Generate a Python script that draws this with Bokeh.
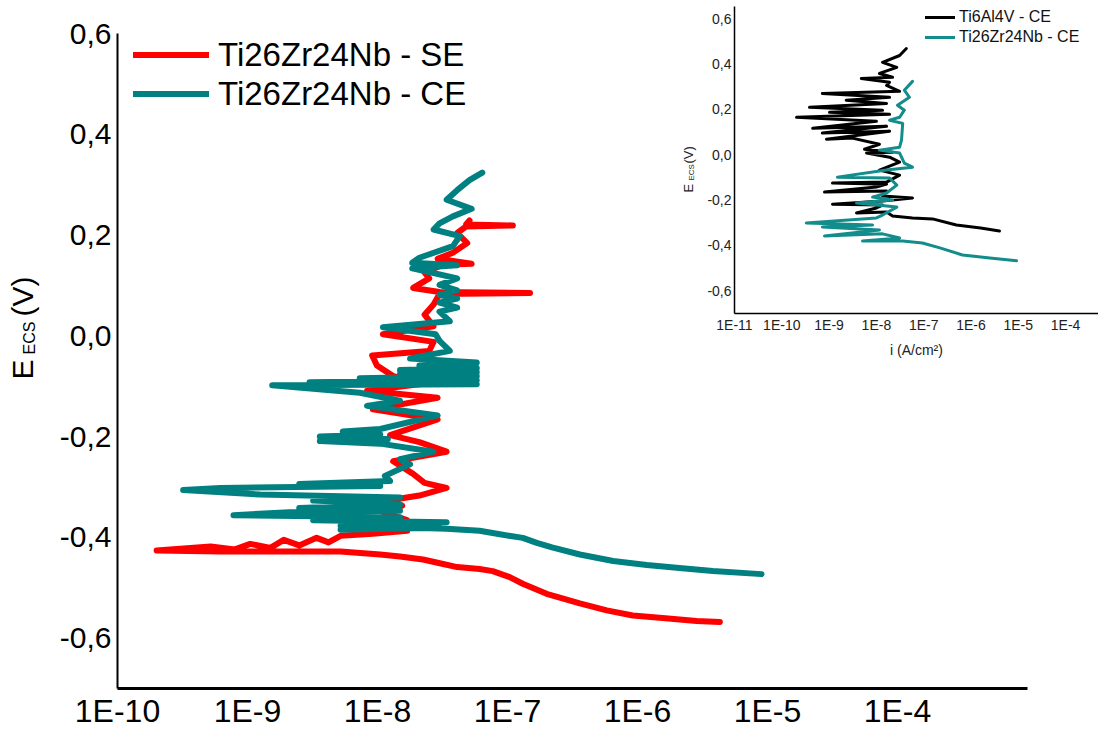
import math
from bokeh.plotting import figure
from bokeh.models import (Range1d, FixedTicker, CustomJSTickFormatter, Legend,
                          LegendItem, GridBox, Column)
from bokeh.core.properties import value
from bokeh.embed import file_html
from bokeh.resources import INLINE

# ---------------- data (main chart) ----------------
# Ti26Zr24Nb - SE : current density (A/cm2), potential (V vs ECS)
se_i = [4.3e-6, 2.85e-6, 1.56e-6, 9.2e-7, 5.8e-7, 3.6e-7, 2.0e-7, 1.31e-7, 1.04e-7,
        7.7e-8, 6.1e-8, 4.1e-8, 3.2e-8, 2.24e-8, 1.49e-8, 1.05e-8, 5.2e-9, 2.5e-9,
        6.2e-10, 2.0e-10,
        5.2e-10, 8.0e-10, 1.05e-9, 1.5e-9, 1.9e-9, 2.5e-9, 3.4e-9, 4.2e-9, 5.2e-9,
        9.2e-9, 1.69e-8, 1.36e-8, 1.69e-8, 1.1e-8, 1.55e-8, 1.2e-8, 2.1e-8, 3.4e-8,
        2.3e-8, 1.88e-8, 1.32e-8, 3.4e-8, 2.1e-8, 1.25e-8, 2.9e-8, 9.2e-9, 2.9e-8,
        8.3e-9, 2.4e-8, 1.32e-8, 9.9e-9, 9.1e-9, 2.5e-8, 2.7e-8, 1.1e-8, 2.7e-8,
        2.3e-8, 2.7e-8, 3.0e-8, 1.49e-7, 3.0e-8, 1.88e-8, 2.5e-8, 2.3e-8, 3.2e-8,
        5.3e-8, 2.9e-8, 3.8e-8, 4.9e-8, 4.1e-8, 4.8e-8, 1.1e-7, 4.8e-8, 5.1e-8]
se_E = [-0.568, -0.566, -0.560, -0.555, -0.545, -0.531, -0.512, -0.492, -0.479,
        -0.467, -0.463, -0.459, -0.453, -0.444, -0.438, -0.434, -0.428, -0.428,
        -0.428, -0.426,
        -0.418, -0.424, -0.413, -0.421, -0.405, -0.416, -0.401, -0.410, -0.397,
        -0.393, -0.387, -0.375, -0.366, -0.350, -0.337, -0.327, -0.317, -0.302,
        -0.292, -0.274, -0.249, -0.230, -0.211, -0.197, -0.166, -0.146, -0.123,
        -0.109, -0.094, -0.080, -0.059, -0.039, -0.030, -0.012, 0.003, 0.019,
        0.042, 0.062, 0.083, 0.085, 0.087, 0.095, 0.114, 0.126, 0.141,
        0.143, 0.153, 0.165, 0.184, 0.204, 0.217, 0.219, 0.221, 0.229]

# Ti26Zr24Nb - CE
ce_i = [9.0e-6, 3.8e-6, 2.1e-6, 1.18e-6, 6.5e-7, 3.6e-7, 2.2e-7, 1.68e-7, 1.31e-7,
        9.2e-8, 6.1e-8, 3.4e-8, 1.88e-8, 1.05e-8, 5.2e-9,
        3.0e-8, 5.2e-9, 3.4e-8, 3.2e-9, 1.49e-8, 7.8e-10, 2.1e-9, 1.49e-8, 2.5e-9,
        1.49e-8, 3.2e-9, 1.49e-8, 1.25e-9, 3.2e-10, 6.2e-10, 1.05e-8, 2.5e-9, 1.25e-8,
        1.14e-8, 1.78e-8, 1.49e-8, 2.7e-8, 1.05e-8, 3.6e-9, 1.2e-8, 3.6e-9, 1.05e-8,
        5.4e-9, 1.05e-8, 2.9e-8, 8.3e-9, 1.49e-8, 7.3e-9, 1.55e-9, 5.8e-8, 3.0e-9,
        5.8e-8, 7.3e-9, 5.8e-8, 1.49e-8, 5.8e-8, 1.49e-8, 5.8e-8, 2.1e-8, 5.8e-8,
        1.78e-8, 3.6e-8, 3.0e-8, 2.8e-8, 1.1e-8, 3.6e-8, 3.0e-8, 4.1e-8, 3.0e-8,
        4.1e-8, 3.0e-8, 4.1e-8, 3.0e-8, 4.1e-8, 1.85e-8, 4.1e-8, 1.85e-8, 2.1e-8,
        3.8e-8, 4.3e-8, 2.7e-8, 3.0e-8, 3.8e-8, 5.3e-8, 3.4e-8, 4.1e-8, 5.1e-8,
        6.4e-8]
ce_E = [-0.473, -0.467, -0.461, -0.455, -0.447, -0.434, -0.420, -0.411, -0.401,
        -0.395, -0.387, -0.383, -0.381, -0.379, -0.385,
        -0.381, -0.377, -0.370, -0.366, -0.360, -0.356, -0.350, -0.347, -0.342,
        -0.335, -0.327, -0.321, -0.315, -0.306, -0.302, -0.298, -0.294, -0.288,
        -0.278, -0.255, -0.245, -0.230, -0.214, -0.209, -0.205, -0.200, -0.196,
        -0.190, -0.185, -0.158, -0.139, -0.129, -0.113, -0.098, -0.096, -0.092,
        -0.088, -0.084, -0.080, -0.076, -0.072, -0.068, -0.064, -0.059, -0.053,
        -0.045, -0.030, -0.010, 0.003, 0.017, 0.029, 0.048, 0.056, 0.066,
        0.074, 0.081, 0.090, 0.101, 0.114, 0.134, 0.140, 0.145, 0.155,
        0.178, 0.198, 0.211, 0.223, 0.237, 0.252, 0.270, 0.289, 0.309,
        0.324]

# ---------------- data (inset) ----------------
ti64_i = [4.0e-6, 1.6e-6, 4.9e-7, 1.54e-7, 5.8e-8, 2.2e-8, 1.64e-8, 3.8e-9, 1.0e-8,
          1.35e-8, 1.18e-9, 1.35e-8, 5.8e-8, 1.35e-8, 1.64e-8, 8.0e-10, 1.0e-8,
          1.64e-8, 1.18e-9, 1.64e-8, 3.1e-8, 1.16e-8, 3.1e-8, 1.9e-8, 6.2e-9, 2.2e-8,
          5.6e-9, 1.16e-8, 3.1e-9, 8.8e-10, 1.9e-8, 7.2e-10, 1.64e-8, 4.5e-10, 1.0e-8,
          2.05e-10, 1.9e-8, 1.02e-9, 1.35e-8, 3.85e-10, 1.64e-8, 2.3e-9, 1.9e-8,
          7.2e-10, 3.1e-8, 1.64e-8, 1.9e-8, 4.8e-9, 2.2e-8, 1.16e-8, 2.7e-8, 1.35e-8,
          3.1e-8, 4.3e-8]
ti64_E = [-0.336, -0.323, -0.310, -0.283, -0.279, -0.270, -0.253, -0.257, -0.235,
          -0.222, -0.218, -0.204, -0.191, -0.182, -0.160, -0.165, -0.143,
          -0.130, -0.125, -0.121, -0.090, -0.068, -0.033, -0.011, 0.007, 0.011,
          0.024, 0.046, 0.073, 0.068, 0.103, 0.095, 0.125, 0.116, 0.147,
          0.165, 0.178, 0.187, 0.196, 0.209, 0.226, 0.240, 0.253,
          0.270, 0.279, 0.305, 0.319, 0.336, 0.341, 0.358, 0.385, 0.407,
          0.437, 0.468]

tizr_i = [9.2e-6, 2.5e-6, 6.6e-7, 2.2e-7, 9.4e-8, 3.6e-8, 5.1e-9, 3.1e-8, 1.35e-8,
          8.0e-10, 1.16e-8, 7.2e-10, 8.3e-9, 3.3e-10, 1.0e-8, 1.35e-8, 2.7e-8, 3.8e-9,
          2.2e-8, 8.3e-9, 1.64e-8, 2.7e-8, 1.9e-8, 1.5e-9, 1.64e-8, 5.8e-8, 3.9e-8,
          3.1e-8, 1.16e-8, 3.1e-8, 3.4e-8, 3.6e-8, 1.9e-8, 3.1e-8, 3.9e-8, 2.8e-8,
          5.0e-8, 3.9e-8, 5.8e-8]
tizr_E = [-0.468, -0.455, -0.442, -0.411, -0.389, -0.380, -0.380, -0.367, -0.349,
          -0.358, -0.332, -0.319, -0.310, -0.301, -0.279, -0.266, -0.231, -0.213,
          -0.200, -0.187, -0.169, -0.134, -0.103, -0.099, -0.068, -0.055, -0.037,
          0.007, 0.020, 0.033, 0.064, 0.138, 0.152, 0.165, 0.196, 0.218,
          0.253, 0.284, 0.323]

# ticks / labels
y_ticks = [-0.6, -0.4, -0.2, 0.0, 0.2, 0.4, 0.6]
x_ticks_main = [1e-10, 1e-9, 1e-8, 1e-7, 1e-6, 1e-5, 1e-4]
x_ticks_inset = [1e-11, 1e-10, 1e-9, 1e-8, 1e-7, 1e-6, 1e-5, 1e-4]
main_labels = ["Ti26Zr24Nb - SE", "Ti26Zr24Nb - CE"]
inset_labels = ["Ti6Al4V - CE", "Ti26Zr24Nb - CE"]
inset_xlabel = "i (A/cm\u00b2)"
ylabel_parts = ["E", "ECS", "(V)"]

FONT = "Liberation Sans"
RED = "#ff0000"
TEAL = "#008080"
TEAL2 = "#138c8c"

y_fmt = "return tick.toFixed(1).replace('.', ',');"
x_fmt = "return '1E' + Math.round(Math.log10(tick));"

W, H = 1098, 731

# ---------------- main figure ----------------
p = figure(width=W, height=H, x_axis_type="log",
           x_range=Range1d(1e-10, 1e-3), y_range=Range1d(-0.7, 0.6),
           output_backend="svg", toolbar_location=None,
           min_border_left=117, min_border_right=71,
           min_border_top=33, min_border_bottom=42)
p.outline_line_color = None
p.grid.visible = False
p.background_fill_color = "white"
p.border_fill_color = "white"

r_se = p.line(se_i, se_E, line_color=RED, line_width=6,
              line_join="round", line_cap="round")
r_ce = p.line(ce_i, ce_E, line_color=TEAL, line_width=6,
              line_join="round", line_cap="round")


def style_axis(ax, ticks, code, size, color, standoff, lw):
    ax.ticker = FixedTicker(ticks=ticks, minor_ticks=[])
    ax.formatter = CustomJSTickFormatter(code=code)
    ax.major_label_text_font = FONT
    ax.major_label_text_font_size = size
    ax.major_label_text_color = color
    ax.major_label_standoff = standoff
    ax.major_tick_line_color = None
    ax.minor_tick_line_color = None
    ax.major_tick_out = 0
    ax.minor_tick_out = 0
    ax.major_tick_in = 0
    ax.axis_line_width = lw
    ax.axis_line_color = "black"


style_axis(p.xaxis[0], x_ticks_main, x_fmt, "32px", "black", 4, 3)
style_axis(p.yaxis[0], y_ticks, y_fmt, "30px", "black", 6, 2)

leg = Legend(items=[LegendItem(label=main_labels[0], renderers=[r_se]),
                    LegendItem(label=main_labels[1], renderers=[r_ce])],
             location=(16, 575))
leg.padding = 0
leg.margin = 0
leg.spacing = 0
leg.glyph_width = 76
leg.glyph_height = 39
leg.label_height = 39
leg.label_standoff = 9
leg.label_text_font = FONT
leg.label_text_font_size = "33px"
leg.label_text_color = "black"
leg.border_line_color = None
leg.background_fill_alpha = 0
p.add_layout(leg)

# ---------------- inset figure ----------------
IW, IH = 424, 365
q = figure(width=IW, height=IH, x_axis_type="log",
           x_range=Range1d(1e-11, 4.97e-4), y_range=Range1d(-0.7, 0.653),
           output_backend="svg", toolbar_location=None,
           min_border_left=60, min_border_right=0,
           min_border_top=6, min_border_bottom=52)
q.outline_line_color = None
q.grid.visible = False
q.background_fill_color = "white"
q.border_fill_color = "white"

r_64 = q.line(ti64_i, ti64_E, line_color="black", line_width=3,
              line_join="round", line_cap="round")
r_zr = q.line(tizr_i, tizr_E, line_color=TEAL2, line_width=3,
              line_join="round", line_cap="round")

style_axis(q.xaxis[0], x_ticks_inset, x_fmt, "14px", "#222222", 3, 1.5)
style_axis(q.yaxis[0], y_ticks, y_fmt, "14px", "#222222", 3, 1.5)
qx = q.xaxis[0]
qx.axis_label = inset_xlabel
qx.axis_label_text_font = FONT
qx.axis_label_text_font_size = "14px"
qx.axis_label_text_font_style = "normal"
qx.axis_label_text_color = "#222222"
qx.axis_label_standoff = 6

leg2 = Legend(items=[LegendItem(label=inset_labels[0], renderers=[r_64]),
                     LegendItem(label=inset_labels[1], renderers=[r_zr])],
              location=(191, 266))
leg2.padding = 0
leg2.margin = 0
leg2.spacing = 0
leg2.glyph_width = 30
leg2.glyph_height = 20
leg2.label_height = 20
leg2.label_standoff = 4
leg2.label_text_font = FONT
leg2.label_text_font_size = "16px"
leg2.label_text_color = "#111111"
leg2.border_line_color = None
leg2.background_fill_alpha = 0
q.add_layout(leg2)

# ---------------- overlay for rotated axis titles with subscripts ----------------
ov = figure(width=W, height=H, x_range=Range1d(0, W), y_range=Range1d(H, 0),
            output_backend="svg", toolbar_location=None,
            min_border=0, min_border_left=0, min_border_right=0,
            min_border_top=0, min_border_bottom=0)
ov.axis.visible = False
ov.grid.visible = False
ov.outline_line_color = None
ov.background_fill_alpha = 0
ov.border_fill_alpha = 0

# main y title
ov.text(x=[22, 22], y=[379, 316], text=[ylabel_parts[0], ylabel_parts[2]],
        angle=math.pi / 2, text_font=value(FONT), text_font_size=value("30px"),
        text_color="black", text_align="left", text_baseline="middle")
ov.text(x=[29], y=[354], text=[ylabel_parts[1]],
        angle=math.pi / 2, text_font=value(FONT), text_font_size=value("16px"),
        text_color="black", text_align="left", text_baseline="middle")
# inset y title
ov.text(x=[688, 688], y=[192, 163], text=[ylabel_parts[0], ylabel_parts[2]],
        angle=math.pi / 2, text_font=value(FONT), text_font_size=value("13px"),
        text_color="#222222", text_align="left", text_baseline="middle")
ov.text(x=[691], y=[180], text=[ylabel_parts[1]],
        angle=math.pi / 2, text_font=value(FONT), text_font_size=value("8px"),
        text_color="#222222", text_align="left", text_baseline="middle")

grid = GridBox(children=[(p, 0, 0, 2, 2),
                         (Column(children=[q]), 0, 1, 1, 1),
                         (Column(children=[ov]), 0, 0, 2, 2)],
               rows=["365px", "366px"], cols=["674px", "424px"])

open("out.html", "w").write(file_html(grid, INLINE))
